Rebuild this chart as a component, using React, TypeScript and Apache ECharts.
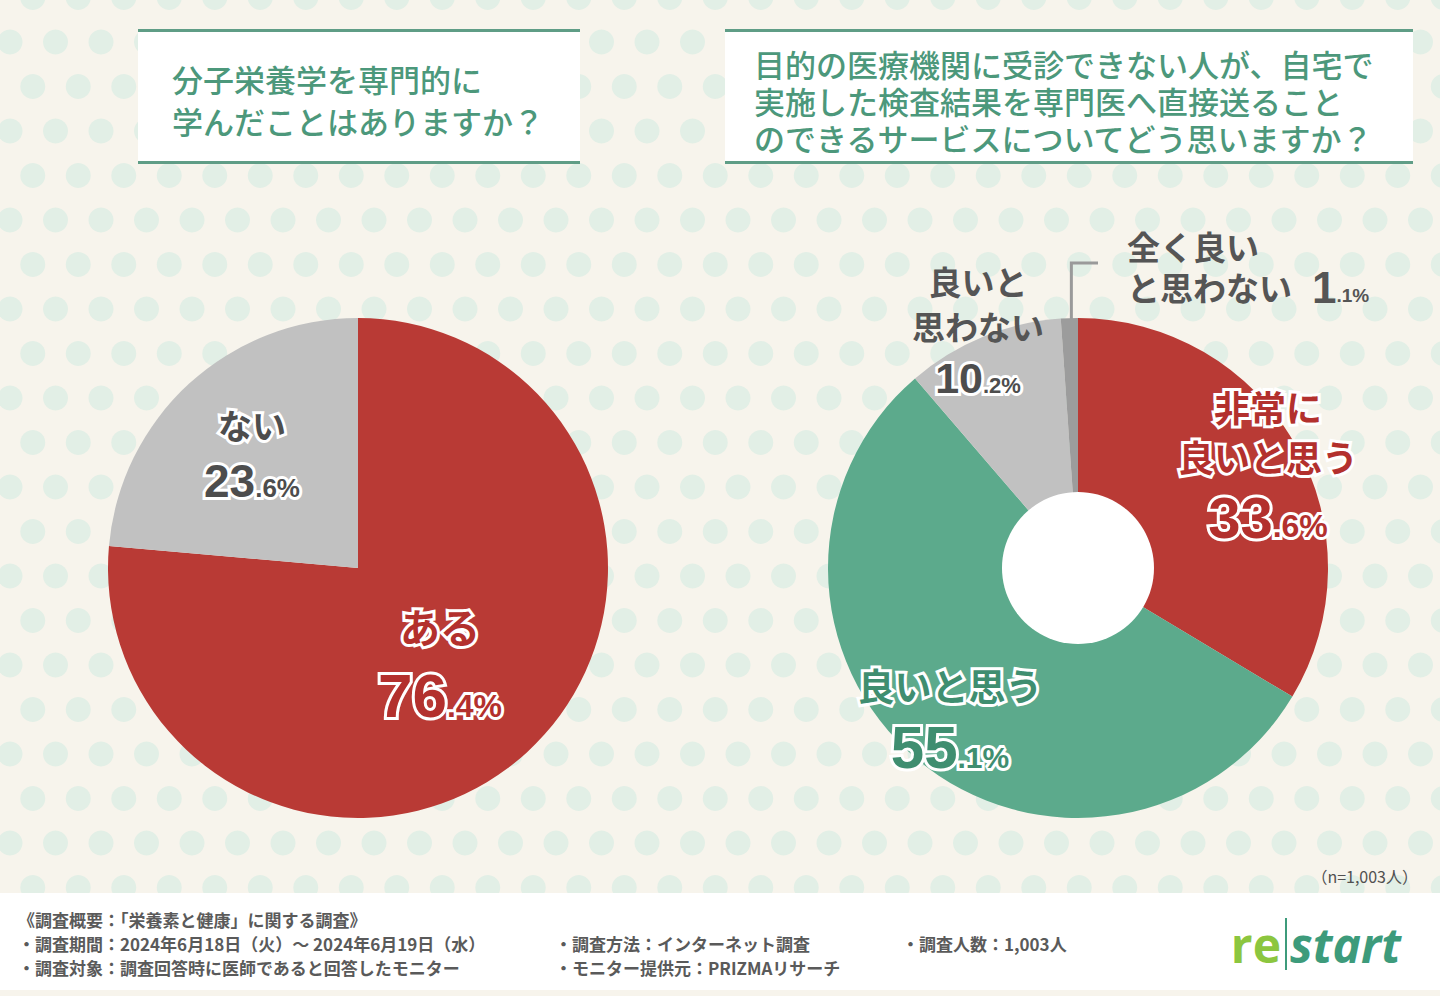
import React, { useEffect, useRef } from 'react';
import * as echarts from 'echarts';

// ---------- data ----------
const leftCategories = ['ある', 'ない'];
const leftValues = [76.4, 23.6];
const leftLabelLines = [['ある'], ['ない']];

const rightCategories = ['非常に良いと思う', '良いと思う', '良いと思わない', '全く良いと思わない'];
const rightValues = [33.6, 55.1, 10.2, 1.1];
const rightLabelLines = [['非常に', '良いと思う'], ['良いと思う'], ['良いと', '思わない'], ['全く良い', 'と思わない']];

const leftTitleLines = ['分子栄養学を専門的に', '学んだことはありますか？'];
const rightTitleLines = [
  '目的の医療機関に受診できない人が、自宅で',
  '実施した検査結果を専門医へ直接送ること',
  'のできるサービスについてどう思いますか？',
];
const sampleNote = '（n=1,003人）';
const footerCol1 = [
  '《調査概要：「栄養素と健康」に関する調査》',
  '・調査期間：2024年6月18日（火）～ 2024年6月19日（水）',
  '・調査対象：調査回答時に医師であると回答したモニター',
];
const footerCol2 = ['・調査方法：インターネット調査', '・モニター提供元：PRIZMAリサーチ'];
const footerCol3 = ['・調査人数：1,003人'];

// ---------- styles ----------
const CJK = '"Noto Sans CJK JP", "Noto Sans CJK SC", sans-serif';
const NUM = '"Liberation Sans", Arial, sans-serif';
const BG = '#f7f4ec';
const DOT = '#e2efe6';
const TITLE_GREEN = '#4c987b';
const RULE_GREEN = '#5f9d86';
const RED = '#b93a35';
const GREEN = '#5caa8c';
const GRAY = '#c1c1c1';
const DARK_GRAY = '#9c9c9c';
const TEXT_GRAY = '#505050';

const leftColors = [RED, GRAY];
const rightColors = [RED, GREEN, GRAY, DARK_GRAY];

type LS = {
  color: string; nameColor?: string; nameOutline: boolean; numOutline: boolean;
  fN: number; LN: number; fn: number; fd: number; LNum: number;
  x: number; top: number; align: 'center' | 'left'; inline?: boolean; gap?: number;
};

const leftLabelStyles: LS[] = [
  { color: '#b3302d', nameOutline: true, numOutline: true, fN: 40, LN: 72, fn: 62, fd: 32, LNum: 66, x: 440, top: 590, align: 'center' },
  { color: '#4d4d4d', nameOutline: true, numOutline: true, fN: 34, LN: 66, fn: 46, fd: 26, LNum: 48, x: 252, top: 391, align: 'center' },
];
const rightLabelStyles: LS[] = [
  { color: '#b3302d', nameOutline: true, numOutline: true, fN: 36, LN: 50, fn: 58, fd: 32, LNum: 72, x: 1268, top: 381, align: 'center' },
  { color: '#3f8e70', nameOutline: true, numOutline: true, fN: 37, LN: 60, fn: 60, fd: 30, LNum: 64, x: 950, top: 655, align: 'center' },
  { color: '#4d4d4d', nameColor: '#555555', nameOutline: false, numOutline: true, fN: 33, LN: 45, fn: 43, fd: 22, LNum: 59, x: 978, top: 258, align: 'center' },
  { color: '#555555', nameOutline: false, numOutline: false, fN: 33, LN: 36, fn: 44, fd: 19, LNum: 46, x: 1127, top: 228, align: 'left', inline: true, gap: 20 },
];

function border(on: boolean) {
  return on ? { textBorderColor: '#ffffff', textBorderWidth: 6 } : { textBorderWidth: 0 };
}

function buildLabel(lines: string[], value: number, s: LS) {
  const [ip, dp] = value.toFixed(1).split('.');
  const num = `{n|${ip}}{d|.${dp}%}`;
  const names = lines.map((l) => `{a|${l}}`);
  const text = s.inline
    ? [...names.slice(0, -1), names[names.length - 1] + num].join('\n')
    : [...names, num].join('\n');
  const pt = Math.round(0.693 * (s.fn - s.fd));
  return {
    show: true,
    position: 'inside',
    formatter: text,
    color: s.color,
    textBorderWidth: 0,
    rich: {
      a: { fontFamily: CJK, fontSize: s.fN, fontWeight: 'bold', color: s.nameColor || s.color, lineHeight: s.LN, ...border(s.nameOutline) },
      n: { fontFamily: NUM, fontSize: s.fn, fontWeight: 'bold', color: s.color, lineHeight: s.LNum, padding: [0, 0, 0, s.gap || 0], ...border(s.numOutline) },
      d: { fontFamily: NUM, fontSize: s.fd, fontWeight: 'bold', color: s.color, lineHeight: s.fd + pt, padding: [pt, 0, 0, 0], ...border(s.numOutline) },
    },
  };
}

const LEFT_CENTER = [358, 568];
const RIGHT_CENTER = [1078, 568];
const PIE_R = 250;
const HOLE_R = 76;

function buildOption() {
  const graphics: any[] = [];
  // dotted background
  for (let k = 0; k < 24; k++) {
    const y = -2.5 + 44.5 * k;
    const off = k % 2 === 0 ? 22.75 : 0;
    for (let i = -1; i < 33; i++) {
      graphics.push({ type: 'circle', silent: true, z: 0, shape: { cx: 10 + 45.5 * i + off, cy: y, r: 12.5 }, style: { fill: DOT } });
    }
  }
  // title boxes
  const boxes = [
    { x: 138, w: 442, lines: leftTitleLines, tx: 172, ty: 99, lh: 42 },
    { x: 725, w: 688, lines: rightTitleLines, tx: 754, ty: 100, lh: 37 },
  ];
  boxes.forEach((b) => {
    graphics.push({ type: 'rect', silent: true, z: 1, shape: { x: b.x, y: 30, width: b.w, height: 133 }, style: { fill: '#ffffff' } });
    graphics.push({ type: 'rect', silent: true, z: 1, shape: { x: b.x, y: 29, width: b.w, height: 3 }, style: { fill: RULE_GREEN } });
    graphics.push({ type: 'rect', silent: true, z: 1, shape: { x: b.x, y: 161, width: b.w, height: 3 }, style: { fill: RULE_GREEN } });
    graphics.push({
      type: 'text', silent: true, z: 2, x: b.tx, y: b.ty,
      style: { text: b.lines.join('\n'), lineHeight: b.lh, fill: TITLE_GREEN, fontFamily: CJK, fontSize: 31, fontWeight: 500, align: 'left', verticalAlign: 'middle' },
    });
  });
  // leader line for smallest slice
  const total = rightValues.reduce((a, b) => a + b, 0);
  const before = rightValues.slice(0, 3).reduce((a, b) => a + b, 0);
  const midFrac = (before + rightValues[3] / 2) / total;
  const th = midFrac * Math.PI * 2;
  const lx = RIGHT_CENTER[0] + PIE_R * Math.sin(th) + 2;
  const ly = RIGHT_CENTER[1] - PIE_R * Math.cos(th);
  graphics.push({
    type: 'polyline', silent: true, z: 1,
    shape: { points: [[lx, ly + 2], [lx, 263], [1098, 263]] },
    style: { stroke: '#9a9a9a', lineWidth: 3, fill: 'none' },
  });
  // sample note
  graphics.push({
    type: 'text', silent: true, z: 2, x: 1418, y: 876,
    style: { text: sampleNote, fill: TEXT_GRAY, fontFamily: CJK, fontSize: 16, align: 'right', verticalAlign: 'middle' },
  });
  // footer
  graphics.push({ type: 'rect', silent: true, z: 1, shape: { x: 0, y: 893, width: 1440, height: 97 }, style: { fill: '#ffffff' } });
  const footerText = (lines: string[], x: number, y: number) => ({
    type: 'text', silent: true, z: 2, x, y,
    style: { text: lines.join('\n'), lineHeight: 24, fill: '#5a5a5a', fontFamily: CJK, fontSize: 17, fontWeight: 'bold', align: 'left', verticalAlign: 'top' },
  });
  graphics.push(footerText(footerCol1, 18, 907));
  graphics.push(footerText(footerCol2, 555, 931));
  graphics.push(footerText(footerCol3, 902, 931));
  // logo
  graphics.push({
    type: 'text', silent: true, z: 2, x: 1281, y: 944,
    style: { text: 're', fill: '#8cc63f', fontFamily: '"Open Sans", sans-serif', fontSize: 48, fontWeight: 'bold', align: 'right', verticalAlign: 'middle' },
  });
  graphics.push({
    type: 'text', silent: true, z: 2, x: 1290, y: 944,
    style: { text: 'start', fill: '#3d9b7b', fontFamily: '"Open Sans", sans-serif', fontSize: 48, fontWeight: 'bold', fontStyle: 'italic', align: 'left', verticalAlign: 'middle' },
  });
  graphics.push({
    type: 'line', silent: true, z: 2,
    shape: { x1: 1286, y1: 918, x2: 1286, y2: 970 },
    style: { stroke: '#3d9b7b', lineWidth: 2 },
  });

  const leftData = leftCategories.map((c, i) => ({
    name: c, value: leftValues[i], itemStyle: { color: leftColors[i] },
    label: buildLabel(leftLabelLines[i], leftValues[i], leftLabelStyles[i]),
  }));
  const rightData = rightCategories.map((c, i) => ({
    name: c, value: rightValues[i], itemStyle: { color: rightColors[i] },
    label: buildLabel(rightLabelLines[i], rightValues[i], rightLabelStyles[i]),
  }));

  const layoutFor = (styles: LS[]) => (p: any) => {
    const s = styles[p.dataIndex];
    return { x: s.x, y: s.top, align: s.align, verticalAlign: 'top' };
  };

  return {
    animation: false,
    backgroundColor: BG,
    graphic: { elements: graphics },
    series: [
      {
        type: 'pie', z: 3, silent: true, center: LEFT_CENTER, radius: [0, PIE_R], startAngle: 90, clockwise: true,
        itemStyle: { borderWidth: 0 }, emphasis: { disabled: true }, labelLine: { show: false },
        data: leftData, labelLayout: layoutFor(leftLabelStyles),
      },
      {
        type: 'pie', z: 3, silent: true, center: RIGHT_CENTER, radius: [0, PIE_R], startAngle: 90, clockwise: true,
        itemStyle: { borderWidth: 0 }, emphasis: { disabled: true }, labelLine: { show: false },
        data: rightData, labelLayout: layoutFor(rightLabelStyles),
      },
      {
        type: 'pie', z: 4, silent: true, center: RIGHT_CENTER, radius: [0, HOLE_R],
        itemStyle: { borderWidth: 0, color: '#ffffff' }, emphasis: { disabled: true },
        label: { show: false }, labelLine: { show: false },
        data: [{ name: 'hole', value: 1 }],
      },
    ],
  };
}

export default function App() {
  const ref = useRef<HTMLDivElement>(null);
  useEffect(() => {
    if (!ref.current) return;
    const chart = echarts.init(ref.current, undefined, { renderer: 'svg' });
    chart.setOption(buildOption() as any);
    return () => chart.dispose();
  }, []);
  return <div ref={ref} style={{ position: 'absolute', left: 0, top: 0, width: 1440, height: 996 }} />;
}
